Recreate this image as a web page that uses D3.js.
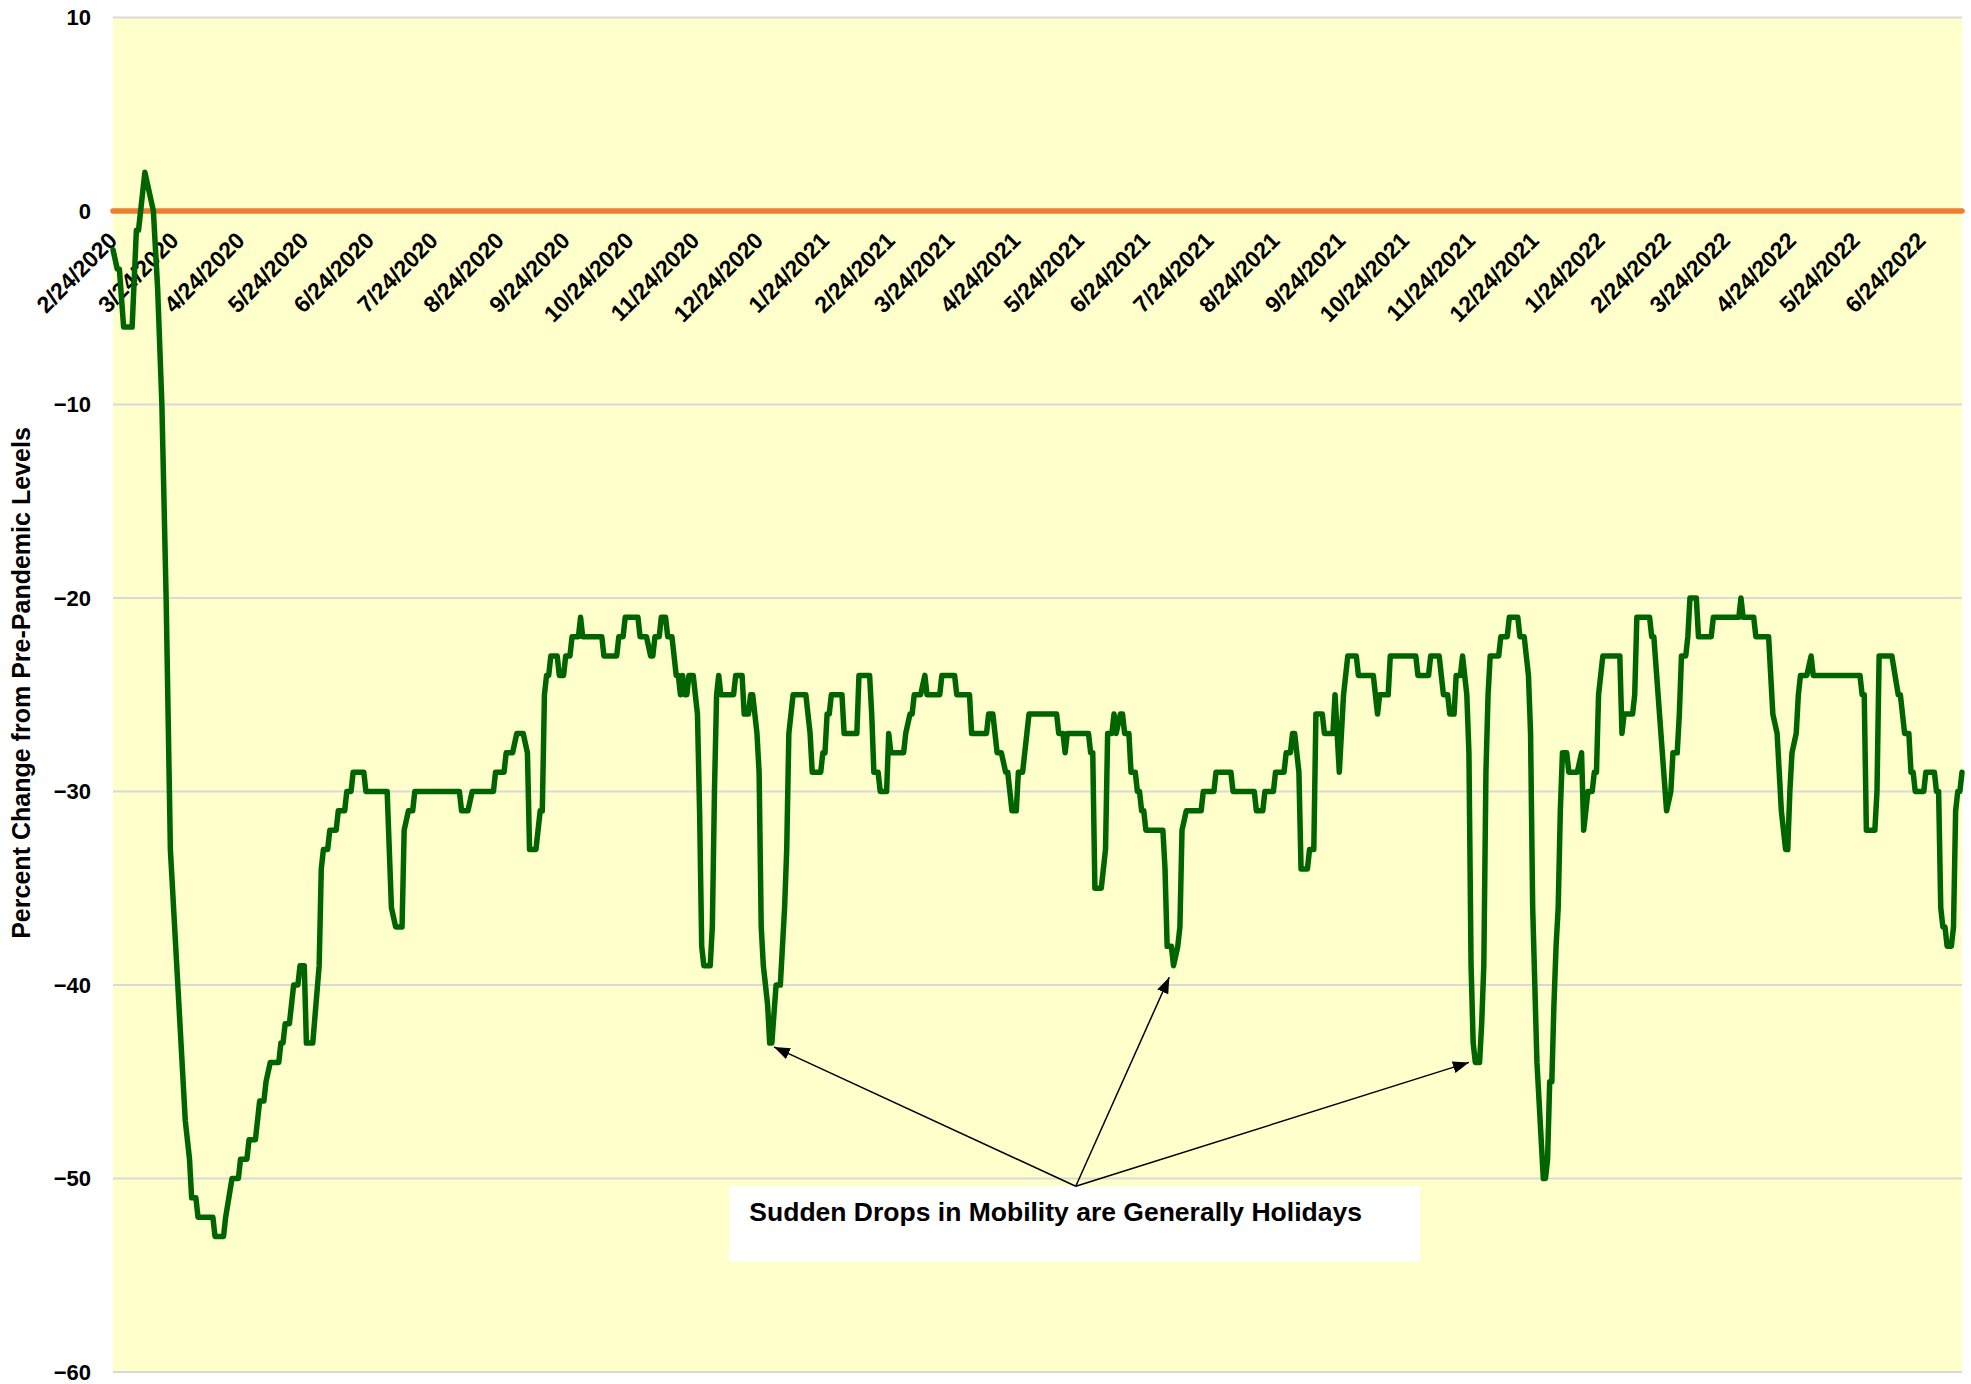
<!DOCTYPE html>
<html>
<head>
<meta charset="utf-8">
<script src="https://cdn.jsdelivr.net/npm/d3@7"></script>
<style>
html,body{margin:0;padding:0;background:#ffffff;}
svg{display:block;}
</style>
</head>
<body>
<svg id="chart" width="1971" height="1384"></svg>
<script>
// ---------- DATA ----------
const dates = [
"2020-02-24","2020-02-26","2020-02-27","2020-02-29",
"2020-03-04","2020-03-06","2020-03-07","2020-03-10","2020-03-12","2020-03-14","2020-03-16","2020-03-18","2020-03-20","2020-03-22","2020-03-26","2020-03-29","2020-03-31",
"2020-04-01","2020-04-03","2020-04-04","2020-04-11","2020-04-12","2020-04-16","2020-04-17","2020-04-20","2020-04-23","2020-04-24","2020-04-27","2020-04-28",
"2020-05-01","2020-05-02","2020-05-03","2020-05-05","2020-05-06","2020-05-08","2020-05-12","2020-05-13","2020-05-14","2020-05-15","2020-05-17","2020-05-18","2020-05-19","2020-05-21","2020-05-22","2020-05-24","2020-05-25","2020-05-28","2020-05-31",
"2020-06-01","2020-06-02","2020-06-04","2020-06-05","2020-06-08","2020-06-09","2020-06-12","2020-06-13","2020-06-15","2020-06-16","2020-06-21","2020-06-22",
"2020-07-02","2020-07-04","2020-07-06","2020-07-09","2020-07-10","2020-07-12","2020-07-14","2020-07-15",
"2020-08-05","2020-08-06","2020-08-09","2020-08-11","2020-08-21","2020-08-22","2020-08-26","2020-08-27","2020-08-30",
"2020-09-01","2020-09-04","2020-09-06","2020-09-07","2020-09-10","2020-09-12","2020-09-13","2020-09-14","2020-09-15","2020-09-16","2020-09-17","2020-09-20","2020-09-21","2020-09-23","2020-09-24","2020-09-26","2020-09-27","2020-09-30",
"2020-10-01","2020-10-02","2020-10-11","2020-10-12","2020-10-18","2020-10-19","2020-10-21","2020-10-22","2020-10-28","2020-10-29",
"2020-11-01","2020-11-03","2020-11-04","2020-11-05","2020-11-07","2020-11-08","2020-11-10","2020-11-11","2020-11-13","2020-11-15","2020-11-16","2020-11-17","2020-11-18","2020-11-19","2020-11-20","2020-11-21","2020-11-23","2020-11-25","2020-11-26","2020-11-27","2020-11-28",
"2020-12-01","2020-12-02","2020-12-03","2020-12-04","2020-12-05","2020-12-06","2020-12-12","2020-12-13","2020-12-16","2020-12-17","2020-12-19","2020-12-20","2020-12-21","2020-12-23","2020-12-24","2020-12-25","2020-12-26","2020-12-28","2020-12-29","2020-12-30",
"2021-01-01","2021-01-03","2021-01-05","2021-01-06","2021-01-07","2021-01-09","2021-01-15","2021-01-17","2021-01-18","2021-01-22","2021-01-23","2021-01-24","2021-01-25","2021-01-26","2021-01-27",
"2021-02-01","2021-02-02","2021-02-08","2021-02-09","2021-02-14","2021-02-15","2021-02-16","2021-02-18","2021-02-19","2021-02-22","2021-02-23","2021-02-24",
"2021-03-02","2021-03-03","2021-03-05","2021-03-06","2021-03-07","2021-03-10","2021-03-12","2021-03-13","2021-03-19","2021-03-20","2021-03-26","2021-03-27",
"2021-04-02","2021-04-03","2021-04-10","2021-04-11","2021-04-13","2021-04-14","2021-04-15","2021-04-17","2021-04-19","2021-04-20","2021-04-22","2021-04-24","2021-04-25","2021-04-27","2021-04-30",
"2021-05-13","2021-05-14","2021-05-16","2021-05-17","2021-05-18","2021-05-28","2021-05-29","2021-05-30","2021-05-31",
"2021-06-03","2021-06-04","2021-06-05","2021-06-06","2021-06-08","2021-06-09","2021-06-10","2021-06-12","2021-06-13","2021-06-14","2021-06-16","2021-06-17","2021-06-19","2021-06-20","2021-06-21","2021-06-22","2021-06-23","2021-06-24",
"2021-07-02","2021-07-03","2021-07-04","2021-07-06","2021-07-07","2021-07-09","2021-07-10","2021-07-11","2021-07-13","2021-07-20","2021-07-21","2021-07-26","2021-07-27",
"2021-08-03","2021-08-04","2021-08-14","2021-08-15","2021-08-18","2021-08-19","2021-08-23","2021-08-24","2021-08-28","2021-08-29","2021-08-31",
"2021-09-01","2021-09-02","2021-09-03","2021-09-04","2021-09-05","2021-09-08","2021-09-09","2021-09-11","2021-09-12","2021-09-15","2021-09-16","2021-09-20","2021-09-21","2021-09-23","2021-09-25","2021-09-26","2021-09-27",
"2021-10-01","2021-10-02","2021-10-09","2021-10-10","2021-10-11","2021-10-12","2021-10-16","2021-10-17","2021-10-29","2021-10-30",
"2021-11-04","2021-11-05","2021-11-09","2021-11-11","2021-11-13","2021-11-14","2021-11-16","2021-11-17","2021-11-19","2021-11-20","2021-11-22","2021-11-23","2021-11-24","2021-11-25","2021-11-26","2021-11-28","2021-11-29","2021-11-30",
"2021-12-01","2021-12-02","2021-12-03","2021-12-07","2021-12-08","2021-12-11","2021-12-12","2021-12-16","2021-12-17","2021-12-19","2021-12-21","2021-12-22","2021-12-23","2021-12-24","2021-12-25","2021-12-26","2021-12-28","2021-12-29","2021-12-30","2021-12-31",
"2022-01-01","2022-01-02","2022-01-03","2022-01-04","2022-01-05","2022-01-06","2022-01-08","2022-01-09","2022-01-13","2022-01-15","2022-01-16","2022-01-17","2022-01-18","2022-01-20","2022-01-21","2022-01-22","2022-01-23","2022-01-24","2022-01-25",
"2022-02-02","2022-02-03","2022-02-04","2022-02-08","2022-02-09","2022-02-10","2022-02-16","2022-02-17","2022-02-18","2022-02-20","2022-02-22","2022-02-24","2022-02-26","2022-02-27",
"2022-03-01","2022-03-02","2022-03-03","2022-03-05","2022-03-06","2022-03-07","2022-03-10","2022-03-11","2022-03-17","2022-03-18","2022-03-30","2022-03-31",
"2022-04-01","2022-04-06","2022-04-07","2022-04-13","2022-04-14","2022-04-15","2022-04-17","2022-04-19","2022-04-21","2022-04-22","2022-04-23","2022-04-24","2022-04-26","2022-04-27","2022-04-28",
"2022-05-01","2022-05-03","2022-05-04","2022-05-26","2022-05-27","2022-05-28","2022-05-29",
"2022-06-02","2022-06-03","2022-06-04","2022-06-10","2022-06-13","2022-06-14","2022-06-16","2022-06-18","2022-06-19","2022-06-20","2022-06-21","2022-06-25","2022-06-26","2022-06-30",
"2022-07-01","2022-07-02","2022-07-03","2022-07-04","2022-07-05","2022-07-06","2022-07-08","2022-07-09","2022-07-10","2022-07-11","2022-07-12","2022-07-13"
];
const values = [
-2,-3,-3,-6,
-6,-1,-1,2,1,0,-4,-10,-20,-33,-41,-47,-49,
-51,-51,-52,-52,-53,-53,-52,-50,-50,-49,-49,-48,
-48,-47,-46,-46,-45,-44,-44,-43,-43,-42,-42,-41,-40,-40,-39,-39,-43,-43,-39,
-34,-33,-33,-32,-32,-31,-31,-30,-30,-29,-29,-30,
-30,-36,-37,-37,-32,-31,-31,-30,
-30,-31,-31,-30,-30,-29,-29,-28,-28,
-27,-27,-28,-33,-33,-31,-31,-25,-24,-24,-23,-23,-24,-24,-23,-23,-22,-22,
-21,-22,-22,-23,-23,-22,-22,-21,-21,-22,
-22,-23,-23,-22,-22,-21,-21,-22,-22,-24,-24,-25,-24,-25,-25,-24,-24,-26,-31,-38,-39,
-39,-37,-30,-25,-24,-25,-25,-24,-24,-26,-26,-25,-25,-27,-29,-37,-39,-41,-43,-43,
-40,-40,-36,-33,-27,-25,-25,-27,-29,-29,-28,-28,-26,-26,-25,
-25,-27,-27,-24,-24,-26,-29,-29,-30,-30,-27,-28,
-28,-27,-26,-26,-25,-25,-24,-25,-25,-24,-24,-25,
-25,-27,-27,-26,-26,-27,-28,-28,-29,-29,-31,-31,-29,-29,-26,
-26,-27,-27,-28,-27,-27,-28,-28,-35,
-35,-34,-33,-27,-27,-26,-27,-26,-26,-27,-27,-29,-29,-30,-30,-31,-31,-32,
-32,-34,-38,-38,-39,-38,-37,-32,-31,-31,-30,-30,-29,
-29,-30,-30,-31,-31,-30,-30,-29,-29,-28,-28,
-27,-27,-28,-29,-34,-34,-33,-33,-26,-26,-27,-27,-25,-29,-25,-24,-23,
-23,-24,-24,-25,-26,-25,-25,-23,-23,-24,
-24,-23,-23,-25,-25,-26,-26,-24,-24,-23,-25,-28,-39,-43,-44,-44,-42,-39,
-29,-25,-23,-23,-22,-22,-21,-21,-22,-22,-24,-27,-36,-40,-44,-46,-50,-50,-49,-45,
-45,-41,-38,-36,-31,-28,-28,-29,-29,-28,-32,-31,-30,-30,-29,-29,-25,-24,-23,
-23,-27,-26,-26,-25,-21,-21,-22,-22,-25,-28,-31,-30,-28,
-28,-26,-23,-23,-22,-20,-20,-22,-22,-21,-21,-20,
-21,-21,-22,-22,-24,-26,-27,-31,-33,-33,-30,-28,-27,-25,-24,
-24,-23,-24,-24,-25,-25,-32,
-32,-30,-23,-23,-25,-25,-27,-27,-29,-29,-30,-30,-29,-29,
-30,-30,-36,-37,-37,-38,-38,-37,-31,-30,-30,-29
];
const baselineValue = 0;           // orange reference series (pre-pandemic level)
const yTicks = [10, 0, -10, -20, -30, -40, -50, -60];
const xTickLabels = [
"2/24/2020","3/24/2020","4/24/2020","5/24/2020","6/24/2020","7/24/2020","8/24/2020","9/24/2020","10/24/2020","11/24/2020","12/24/2020",
"1/24/2021","2/24/2021","3/24/2021","4/24/2021","5/24/2021","6/24/2021","7/24/2021","8/24/2021","9/24/2021","10/24/2021","11/24/2021","12/24/2021",
"1/24/2022","2/24/2022","3/24/2022","4/24/2022","5/24/2022","6/24/2022"
];
const yTitle = "Percent Change from Pre-Pandemic Levels";
const noteText = "Sudden Drops in Mobility are Generally Holidays";
// annotation anchors in data space
const noteBoxDates = ["2020-12-10", "2021-10-31"];
const noteBoxValues = [-50.4, -54.3];
const noteApexDate = "2021-05-22";
const arrowDates = ["2020-12-31", "2021-07-05", "2021-11-23"];
const arrowValues = [-43.2, -39.6, -44.0];

// ---------- LAYOUT ----------
const W = 1971, H = 1384;
const plot = {left: 113, right: 1962, top: 17.5, bottom: 1372};
const FONT = "'Liberation Sans', Arial, Helvetica, sans-serif";

const parseISO = d3.utcParse("%Y-%m-%d");
const parseLabel = d3.utcParse("%m/%d/%Y");
const series = dates.map((d, i) => ({date: parseISO(d), value: values[i]}));

const x = d3.scaleUtc()
  .domain(d3.extent(series, d => d.date))
  .range([plot.left, plot.right]);
const y = d3.scaleLinear()
  .domain([d3.min(yTicks), d3.max(yTicks)])
  .range([plot.bottom, plot.top]);

const svg = d3.select("#chart");
svg.append("rect").attr("x", 0).attr("y", 0).attr("width", W).attr("height", H).attr("fill", "#ffffff");

// plot background
svg.append("rect")
  .attr("x", plot.left).attr("y", plot.top)
  .attr("width", plot.right - plot.left).attr("height", plot.bottom - plot.top)
  .attr("fill", "#FFFFCC");

// gridlines
svg.append("g")
  .selectAll("line").data(yTicks).join("line")
  .attr("x1", plot.left).attr("x2", plot.right)
  .attr("y1", d => y(d)).attr("y2", d => y(d))
  .attr("stroke", "#D9D9D9").attr("stroke-width", 2);

// y axis labels
const yAxis = svg.append("g")
  .attr("transform", `translate(${plot.left},0)`)
  .call(d3.axisLeft(y).tickValues(yTicks).tickSize(0).tickPadding(22).tickFormat(d3.format("d")));
yAxis.select(".domain").remove();
yAxis.selectAll("text")
  .attr("font-family", FONT).attr("font-weight", "bold").attr("font-size", 22)
  .attr("fill", "#000");

// y axis title
const yt = svg.append("text")
  .attr("transform", `translate(21,683) rotate(-90)`)
  .attr("text-anchor", "middle")
  .attr("dominant-baseline", "central")
  .attr("font-family", FONT).attr("font-weight", "bold").attr("font-size", 22)
  .attr("fill", "#000")
  .text(yTitle);
{
  const len = yt.node().getComputedTextLength();
  yt.attr("font-size", 22 * 512 / len);
}

// orange pre-pandemic reference line
const baseSeries = series.map(d => ({date: d.date, value: baselineValue}));
const line = d3.line().x(d => x(d.date)).y(d => y(d.value));
svg.append("path")
  .datum(baseSeries)
  .attr("d", line)
  .attr("fill", "none")
  .attr("stroke", "#ED7D31")
  .attr("stroke-width", 5.5)
  .attr("stroke-linecap", "round");

// x axis labels (rotated), positioned next to the zero line
const tickDates = xTickLabels.map(parseLabel);
const xAxis = svg.append("g")
  .attr("transform", `translate(0,${y(0)})`)
  .call(d3.axisBottom(x).tickValues(tickDates).tickSize(0)
    .tickFormat((d, i) => xTickLabels[i]));
xAxis.select(".domain").remove();
xAxis.selectAll(".tick text")
  .attr("x", 0).attr("y", 0).attr("dy", null)
  .attr("transform", "translate(5,31) rotate(-45)")
  .style("text-anchor", "end")
  .attr("font-family", FONT).attr("font-weight", "bold").attr("font-size", 23)
  .attr("fill", "#000");

// mobility line
svg.append("path")
  .datum(series)
  .attr("d", line)
  .attr("fill", "none")
  .attr("stroke", "#006400")
  .attr("stroke-width", 5.5)
  .attr("stroke-linejoin", "round")
  .attr("stroke-linecap", "round");

// ---------- ANNOTATION ----------
const defs = svg.append("defs");
defs.append("marker")
  .attr("id", "arrowhead")
  .attr("markerUnits", "userSpaceOnUse")
  .attr("viewBox", "0 0 16 12")
  .attr("markerWidth", 16).attr("markerHeight", 12)
  .attr("refX", 16).attr("refY", 6)
  .attr("orient", "auto")
  .append("path").attr("d", "M0,0 L16,6 L0,12 Z").attr("fill", "#000");

const bx0 = x(parseISO(noteBoxDates[0])), bx1 = x(parseISO(noteBoxDates[1]));
const by0 = y(noteBoxValues[0]), by1 = y(noteBoxValues[1]);
svg.append("rect")
  .attr("x", bx0).attr("y", by0)
  .attr("width", bx1 - bx0).attr("height", by1 - by0)
  .attr("fill", "#ffffff");

const apex = [x(parseISO(noteApexDate)), by0];
svg.append("g").selectAll("line")
  .data(arrowDates.map((d, i) => ({date: parseISO(d), value: arrowValues[i]})))
  .join("line")
  .attr("x1", apex[0]).attr("y1", apex[1])
  .attr("x2", d => x(d.date)).attr("y2", d => y(d.value))
  .attr("stroke", "#000").attr("stroke-width", 1.5)
  .attr("marker-end", "url(#arrowhead)");

const nt = svg.append("text")
  .attr("x", bx0 + 20).attr("y", by0 + 35)
  .attr("font-family", FONT).attr("font-weight", "bold").attr("font-size", 24)
  .attr("fill", "#000")
  .text(noteText);
{
  const len = nt.node().getComputedTextLength();
  nt.attr("font-size", 24 * 613 / len);
}
</script>
</body>
</html>
